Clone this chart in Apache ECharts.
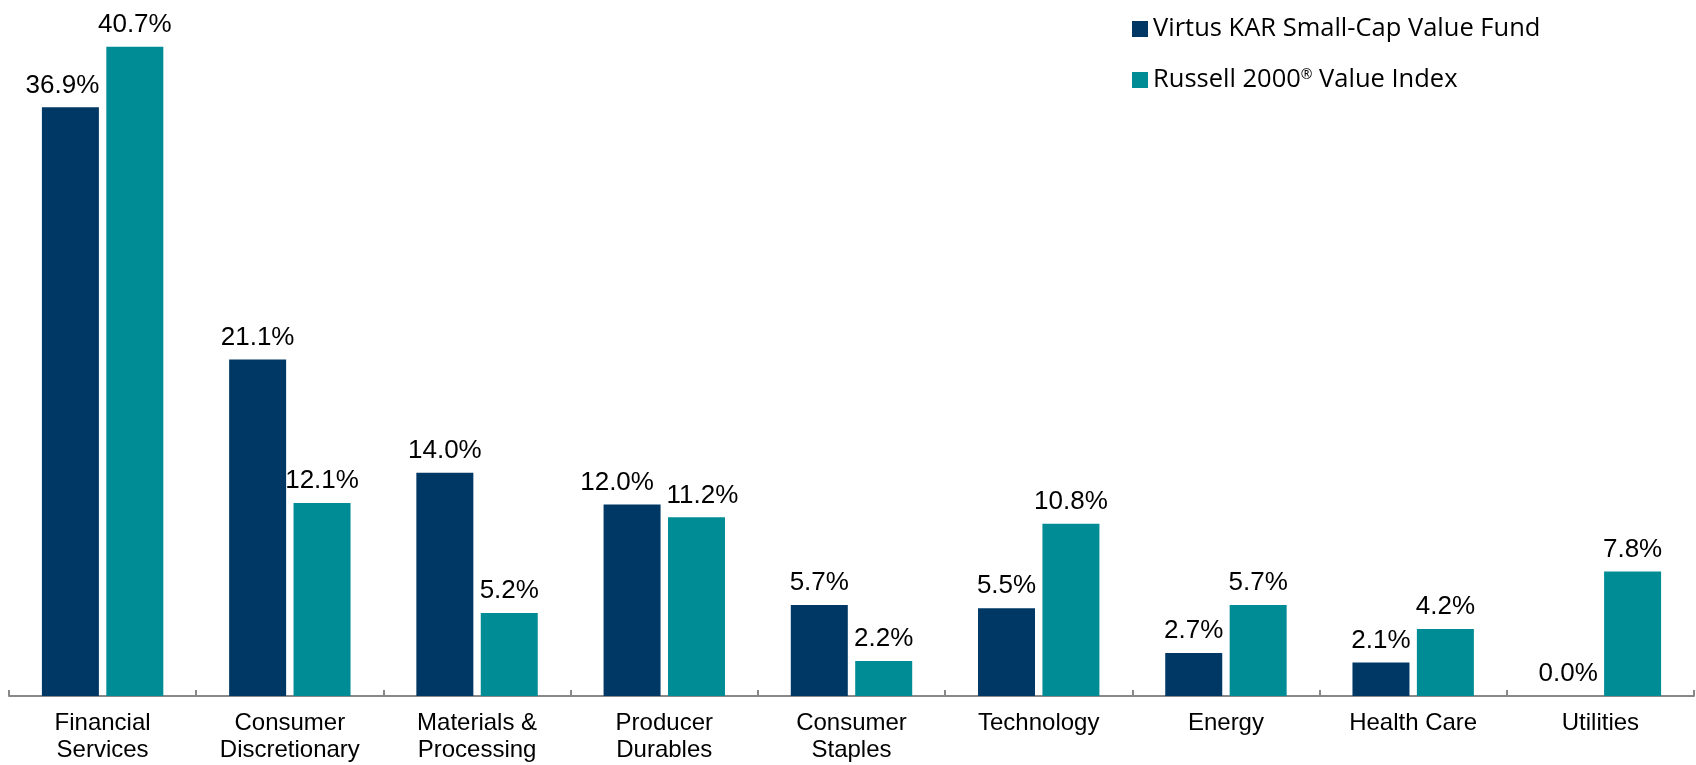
<!DOCTYPE html>
<html>
<head>
<meta charset="utf-8">
<script src="https://cdn.jsdelivr.net/npm/echarts@6/dist/echarts.min.js"></script>
<style>
  html, body { margin: 0; padding: 0; background: #fff; }
  #main { width: 1696px; height: 765px; }
</style>
</head>
<body>
<div id="main"></div>
<script>
// sector weights (%)
const categories = [
    'Financial\nServices', 'Consumer\nDiscretionary', 'Materials &\nProcessing',
    'Producer\nDurables', 'Consumer\nStaples', 'Technology', 'Energy', 'Health Care', 'Utilities'
];
const fundName = 'Virtus KAR Small-Cap Value Fund';
const indexName = 'Russell 2000® Value Index';
const fundValues = [36.9, 21.1, 14.0, 12.0, 5.7, 5.5, 2.7, 2.1, 0.0];
const indexValues = [40.7, 12.1, 5.2, 11.2, 2.2, 10.8, 5.7, 4.2, 7.8];

const labelFont = 'Liberation Sans, Arial, sans-serif';
const legendFont = 'Open Sans, Noto Sans, sans-serif';

const barLabel = {
    show: true,
    position: 'top',
    distance: 9,
    color: '#000',
    fontSize: 26,
    fontFamily: labelFont,
    formatter: (p) => p.value.toFixed(1) + '%'
};

// a few labels were nudged sideways in the original so they don't crowd each other
const nudge = (values, shifts) => values.map((v, i) =>
    shifts[i] ? { value: v, label: { offset: [shifts[i], 0] } } : v
);

const option = {
    animation: false,
    grid: { left: 9, right: 2, top: 26, bottom: 69 },
    legend: {
        orient: 'vertical',
        left: 1127,
        top: 11,
        itemWidth: 16,
        itemHeight: 16,
        itemGap: 25,
        icon: 'rect',
        textStyle: {
            fontFamily: legendFont,
            fontSize: 25.5,
            color: '#000',
            rich: {
                sup: { fontSize: 14, fontFamily: legendFont, color: '#000', padding: [0, 0, 10, 0] }
            }
        },
        formatter: (name) => name.replace('®', '{sup|®}'),
        data: [fundName, indexName]
    },
    xAxis: {
        type: 'category',
        data: categories,
        axisLine: { lineStyle: { color: '#888', width: 2 } },
        axisTick: { show: true, inside: true, length: 6, lineStyle: { color: '#888', width: 2 } },
        axisLabel: {
            color: '#000',
            fontSize: 24,
            lineHeight: 27,
            fontFamily: labelFont,
            margin: 14,
            interval: 0
        }
    },
    yAxis: {
        type: 'value',
        min: 0,
        max: 42,
        show: false,
        splitLine: { show: false }
    },
    series: [
        {
            name: fundName,
            type: 'bar',
            data: nudge(fundValues, { 0: -8, 3: -15 }),
            barWidth: 57,
            barGap: '13%',
            itemStyle: { color: '#003865' },
            label: barLabel
        },
        {
            name: indexName,
            type: 'bar',
            data: nudge(indexValues, { 3: 6 }),
            barWidth: 57,
            itemStyle: { color: '#008C95' },
            label: barLabel
        }
    ]
};

const chart = echarts.init(document.getElementById('main'));
chart.setOption(option);
</script>
</body>
</html>
